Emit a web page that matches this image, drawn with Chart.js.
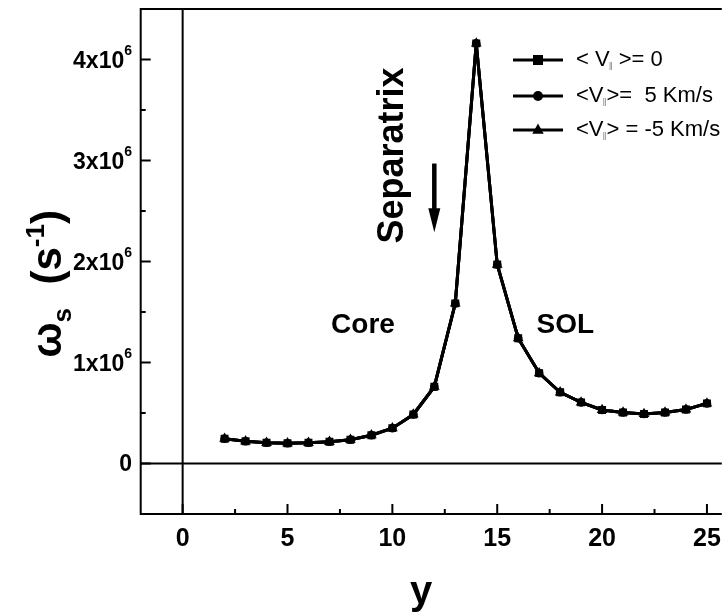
<!DOCTYPE html>
<html>
<head>
<meta charset="utf-8">
<script src="https://cdn.jsdelivr.net/npm/chart.js@4.4.0/dist/chart.umd.min.js"></script>
<style>
  html, body { margin: 0; padding: 0; background: #fff; overflow: hidden; }
  canvas { display: block; }
</style>
</head>
<body>
<canvas id="chartCanvas" width="723" height="613"></canvas>
<script>
// Дані
const yPositions = [2, 3, 4, 5, 6, 7, 8, 9, 10, 11, 12, 13, 14, 15, 16, 17, 18, 19, 20, 21, 22, 23, 24, 25];
const omegaZero = [0.245e6, 0.22e6, 0.205e6, 0.2e6, 0.205e6, 0.215e6, 0.235e6, 0.28e6, 0.35e6, 0.485e6, 0.76e6, 1.585e6,
  4.16e6, 1.97e6, 1.24e6, 0.895e6, 0.705e6, 0.605e6, 0.53e6, 0.505e6, 0.49e6, 0.505e6, 0.535e6, 0.595e6];
const omegaPlus5 = [0.245e6, 0.22e6, 0.205e6, 0.2e6, 0.205e6, 0.215e6, 0.235e6, 0.28e6, 0.35e6, 0.485e6, 0.76e6, 1.585e6,
  4.16e6, 1.97e6, 1.24e6, 0.895e6, 0.705e6, 0.605e6, 0.53e6, 0.505e6, 0.49e6, 0.505e6, 0.535e6, 0.595e6];
const omegaMinus5 = [0.245e6, 0.22e6, 0.205e6, 0.2e6, 0.205e6, 0.215e6, 0.235e6, 0.28e6, 0.35e6, 0.485e6, 0.76e6, 1.585e6,
  4.16e6, 1.97e6, 1.24e6, 0.895e6, 0.705e6, 0.605e6, 0.53e6, 0.505e6, 0.49e6, 0.505e6, 0.535e6, 0.595e6];

const xTicks = [0, 5, 10, 15, 20, 25];
const xMinorTicks = [2.5, 7.5, 12.5, 17.5, 22.5];
const yTicks = [0, 1e6, 2e6, 3e6, 4e6];
const yMinorTicks = [0.5e6, 1.5e6, 2.5e6, 3.5e6];
const yTickLabels = ["0", "1x10", "2x10", "3x10", "4x10"];
const yTickExponent = "6";

const legendItems = [
  { pre: "< V", post: " >= 0", style: "rect" },
  { pre: "<V", post: ">=  5 Km/s", style: "circle" },
  { pre: "<V", post: "> = -5 Km/s", style: "triangle" },
];

const FONT = "'Liberation Sans', Arial, sans-serif";

function toPoints(values) {
  return yPositions.map((x, i) => ({ x: x, y: values[i] }));
}

function drawMarker(ctx, style, x, y, r) {
  ctx.beginPath();
  if (style === "rect") {
    ctx.rect(x - r, y - r, 2 * r, 2 * r);
  } else if (style === "circle") {
    ctx.arc(x, y, r, 0, Math.PI * 2);
  } else {
    ctx.moveTo(x, y - r * 1.3);
    ctx.lineTo(x + r * 1.15, y + r * 0.75);
    ctx.lineTo(x - r * 1.15, y + r * 0.75);
    ctx.closePath();
  }
  ctx.fill();
}

// Рамка, осі, підписи та анотації малюємо самі
const decorPlugin = {
  id: "decor",
  beforeDatasetsDraw(chart) {
    const { ctx, chartArea: a, scales } = chart;
    const x0 = scales.x.getPixelForValue(0);
    const y0 = scales.y.getPixelForValue(0);
    ctx.save();
    ctx.strokeStyle = "#000";
    ctx.lineWidth = 2;
    ctx.beginPath();
    ctx.moveTo(x0, a.top);
    ctx.lineTo(x0, a.bottom);
    ctx.moveTo(a.left, y0);
    ctx.lineTo(a.right + 5, y0);
    ctx.stroke();
    ctx.restore();
  },
  afterDatasetsDraw(chart) {
    const { ctx, chartArea: a, scales } = chart;
    const sx = scales.x, sy = scales.y;
    ctx.save();
    ctx.strokeStyle = "#000";
    ctx.fillStyle = "#000";
    ctx.lineWidth = 2;

    // рамка: ліва, верхня, нижня
    ctx.beginPath();
    ctx.moveTo(a.right + 5, a.top);
    ctx.lineTo(a.left, a.top);
    ctx.lineTo(a.left, a.bottom);
    ctx.lineTo(a.right + 5, a.bottom);
    ctx.stroke();

    // засічки всередину
    ctx.beginPath();
    xTicks.forEach((v) => {
      const px = sx.getPixelForValue(v);
      ctx.moveTo(px, a.bottom);
      ctx.lineTo(px, a.bottom - 10);
    });
    xMinorTicks.forEach((v) => {
      const px = sx.getPixelForValue(v);
      ctx.moveTo(px, a.bottom);
      ctx.lineTo(px, a.bottom - 5);
    });
    yTicks.forEach((v) => {
      const py = sy.getPixelForValue(v);
      ctx.moveTo(a.left, py);
      ctx.lineTo(a.left + 10, py);
    });
    yMinorTicks.forEach((v) => {
      const py = sy.getPixelForValue(v);
      ctx.moveTo(a.left, py);
      ctx.lineTo(a.left + 5, py);
    });
    ctx.stroke();

    // підписи осі x
    ctx.font = "bold 25px " + FONT;
    ctx.textAlign = "center";
    ctx.textBaseline = "middle";
    xTicks.forEach((v) => {
      ctx.fillText(String(v), sx.getPixelForValue(v), a.bottom + 25);
    });

    // підписи осі y з показником степеня
    yTicks.forEach((v, i) => {
      const py = sy.getPixelForValue(v);
      const right = 132;
      if (i === 0) {
        ctx.font = "bold 23px " + FONT;
        ctx.textAlign = "right";
        ctx.fillText(yTickLabels[i], right, py + 1);
        return;
      }
      ctx.font = "bold 14px " + FONT;
      ctx.textAlign = "right";
      const supW = ctx.measureText(yTickExponent).width;
      ctx.fillText(yTickExponent, right, py - 8);
      ctx.font = "bold 23px " + FONT;
      ctx.fillText(yTickLabels[i], right - supW, py + 2);
    });

    // назва осі x
    ctx.font = "bold 40px " + FONT;
    ctx.textAlign = "center";
    ctx.fillText("y", 421, 593);

    // назва осі y: ωs (s-1)
    ctx.save();
    ctx.translate(47, 284);
    ctx.rotate(-Math.PI / 2);
    const big = "bold 42px " + FONT;
    const small = "bold 26px " + FONT;
    const parts = [
      { t: "\u03c9", f: big, dy: 0 },
      { t: "s", f: small, dy: 10 },
      { t: "  (s", f: big, dy: 0 },
      { t: "-1", f: small, dy: -17 },
      { t: ")", f: big, dy: 0 },
    ];
    let total = 0;
    parts.forEach((p) => { ctx.font = p.f; total += ctx.measureText(p.t).width; });
    let cx = -total / 2;
    ctx.textAlign = "left";
    ctx.textBaseline = "alphabetic";
    parts.forEach((p) => {
      ctx.font = p.f;
      ctx.fillText(p.t, cx, 14 + p.dy);
      cx += ctx.measureText(p.t).width;
    });
    ctx.restore();

    // анотації
    ctx.font = "bold 28px " + FONT;
    ctx.textAlign = "center";
    ctx.textBaseline = "middle";
    ctx.fillText("Core", sx.getPixelForValue(8.6), sy.getPixelForValue(1.37e6));
    ctx.fillText("SOL", sx.getPixelForValue(18.25), sy.getPixelForValue(1.37e6));

    ctx.save();
    ctx.translate(sx.getPixelForValue(10.05), sy.getPixelForValue(3.05e6));
    ctx.rotate(-Math.PI / 2);
    ctx.font = "bold 36px " + FONT;
    ctx.fillText("Separatrix", 0, 0);
    ctx.restore();

    // стрілка до сепаратриси
    const ax = sx.getPixelForValue(12);
    const aTop = sy.getPixelForValue(2.97e6);
    const aTip = sy.getPixelForValue(2.29e6);
    ctx.lineWidth = 4.5;
    ctx.beginPath();
    ctx.moveTo(ax, aTop);
    ctx.lineTo(ax, aTip - 20);
    ctx.stroke();
    ctx.beginPath();
    ctx.moveTo(ax - 6, aTip - 24);
    ctx.lineTo(ax + 6, aTip - 24);
    ctx.lineTo(ax, aTip);
    ctx.closePath();
    ctx.fill();

    // легенда
    const rowsY = [60, 96, 130];
    legendItems.forEach((item, i) => {
      const y = rowsY[i];
      ctx.lineWidth = 3;
      ctx.beginPath();
      ctx.moveTo(513, y);
      ctx.lineTo(563, y);
      ctx.stroke();
      drawMarker(ctx, item.style, 538, y, 5);
      ctx.textAlign = "left";
      ctx.textBaseline = "middle";
      ctx.font = "22px " + FONT;
      let tx = 576;
      ctx.fillStyle = "#000";
      ctx.fillText(item.pre, tx, y);
      tx += ctx.measureText(item.pre).width;
      ctx.font = "10px " + FONT;
      ctx.fillStyle = "#888";
      ctx.fillText("\u2016", tx - 1, y + 7);
      tx += 3;
      ctx.font = "22px " + FONT;
      ctx.fillStyle = "#000";
      ctx.fillText(item.post, tx, y);
    });
    ctx.restore();
  },
};

const ctx = document.getElementById("chartCanvas").getContext("2d");
const seriesStyles = [
  { pointStyle: "rect", pointRadius: 5.6 },
  { pointStyle: "circle", pointRadius: 4.3 },
  { pointStyle: "triangle", pointRadius: 6.2 },
];
window.myChart = new Chart(ctx, {
  type: "line",
  data: {
    datasets: [
      { label: "< V >= 0", data: toPoints(omegaZero) },
      { label: "<V>= 5 Km/s", data: toPoints(omegaPlus5) },
      { label: "<V> = -5 Km/s", data: toPoints(omegaMinus5) },
    ].map((d, i) => Object.assign(d, seriesStyles[i], {
      borderColor: "#000",
      backgroundColor: "#000",
      borderWidth: 3,
      pointBorderWidth: 0,
      tension: 0,
    })),
  },
  options: {
    responsive: false,
    animation: false,
    layout: { padding: { left: 140.7, top: 9, right: 0, bottom: 99 } },
    plugins: { legend: { display: false }, tooltip: { enabled: false } },
    scales: {
      x: { type: "linear", min: -2, max: 25.47, display: false },
      y: { type: "linear", min: -0.5e6, max: 4.5e6, display: false },
    },
  },
  plugins: [decorPlugin],
});
</script>
</body>
</html>
